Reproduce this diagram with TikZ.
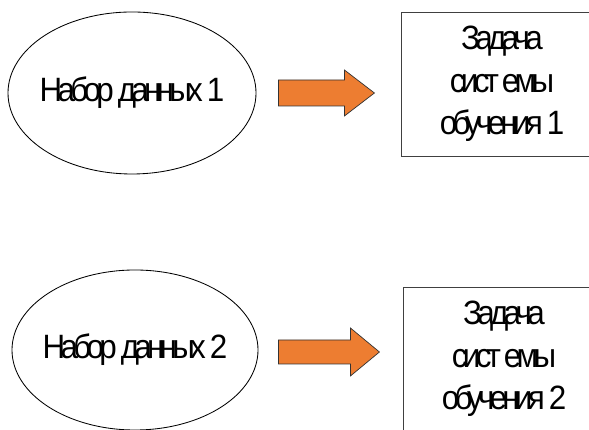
\documentclass[tikz,border=0pt]{standalone}
\usepackage{fontspec}
\setmainfont{Liberation Sans}[LetterSpace=-14, FakeStretch=0.93]
\usepackage{xcolor}
\usetikzlibrary{calc,shapes.geometric}
\definecolor{arroworange}{HTML}{ED7D31}

\begin{document}
\begin{tikzpicture}[
  dataset/.style={draw, ellipse, line width=0.6pt, inner xsep=-1.5cm, inner ysep=0pt},
  taskbox/.style={draw=black!75, line width=0.6pt, rectangle, align=center, inner sep=0pt},
  blockarr/.style={fill=arroworange, draw=black!80, line width=0.5pt, line join=miter},
  font=\fontsize{24}{30.2}\selectfont,
]
\useasboundingbox (0,0) rectangle (14.725,10.75);

% Row 1
\node[dataset, minimum width=6.2cm, minimum height=4.05cm] (set1) at (3.3,8.425) {Набор данных 1};
\node[taskbox, minimum width=5.05cm, minimum height=3.6cm] (task1) at (12.55,8.65) {Задача\\сист\kern2pt емы\\обучения 1};
\coordinate (a1) at ($(set1.east)+(0.55,0)$);
\draw[blockarr] (a1) ++(0,0.325) -- ++(1.65,0) -- ++(0,0.25) -- ++(0.75,-0.575)
  -- ++(-0.75,-0.575) -- ++(0,0.25) -- ++(-1.65,0) -- cycle;

% Row 2
\node[dataset, minimum width=6.15cm, minimum height=4.0cm] (set2) at (3.375,2.0) {Набор данных 2};
\node[taskbox, minimum width=5.05cm, minimum height=3.6cm] (task2) at (12.6,1.775) {Задача\\сист\kern2pt емы\\обучения 2};
\coordinate (a2) at ($(set2.east)+(0.5,-0.05)$);
\draw[blockarr] (a2) ++(0,0.3) -- ++(1.8,0) -- ++(0,0.3) -- ++(0.725,-0.6)
  -- ++(-0.725,-0.6) -- ++(0,0.3) -- ++(-1.8,0) -- cycle;
\end{tikzpicture}
\end{document}
